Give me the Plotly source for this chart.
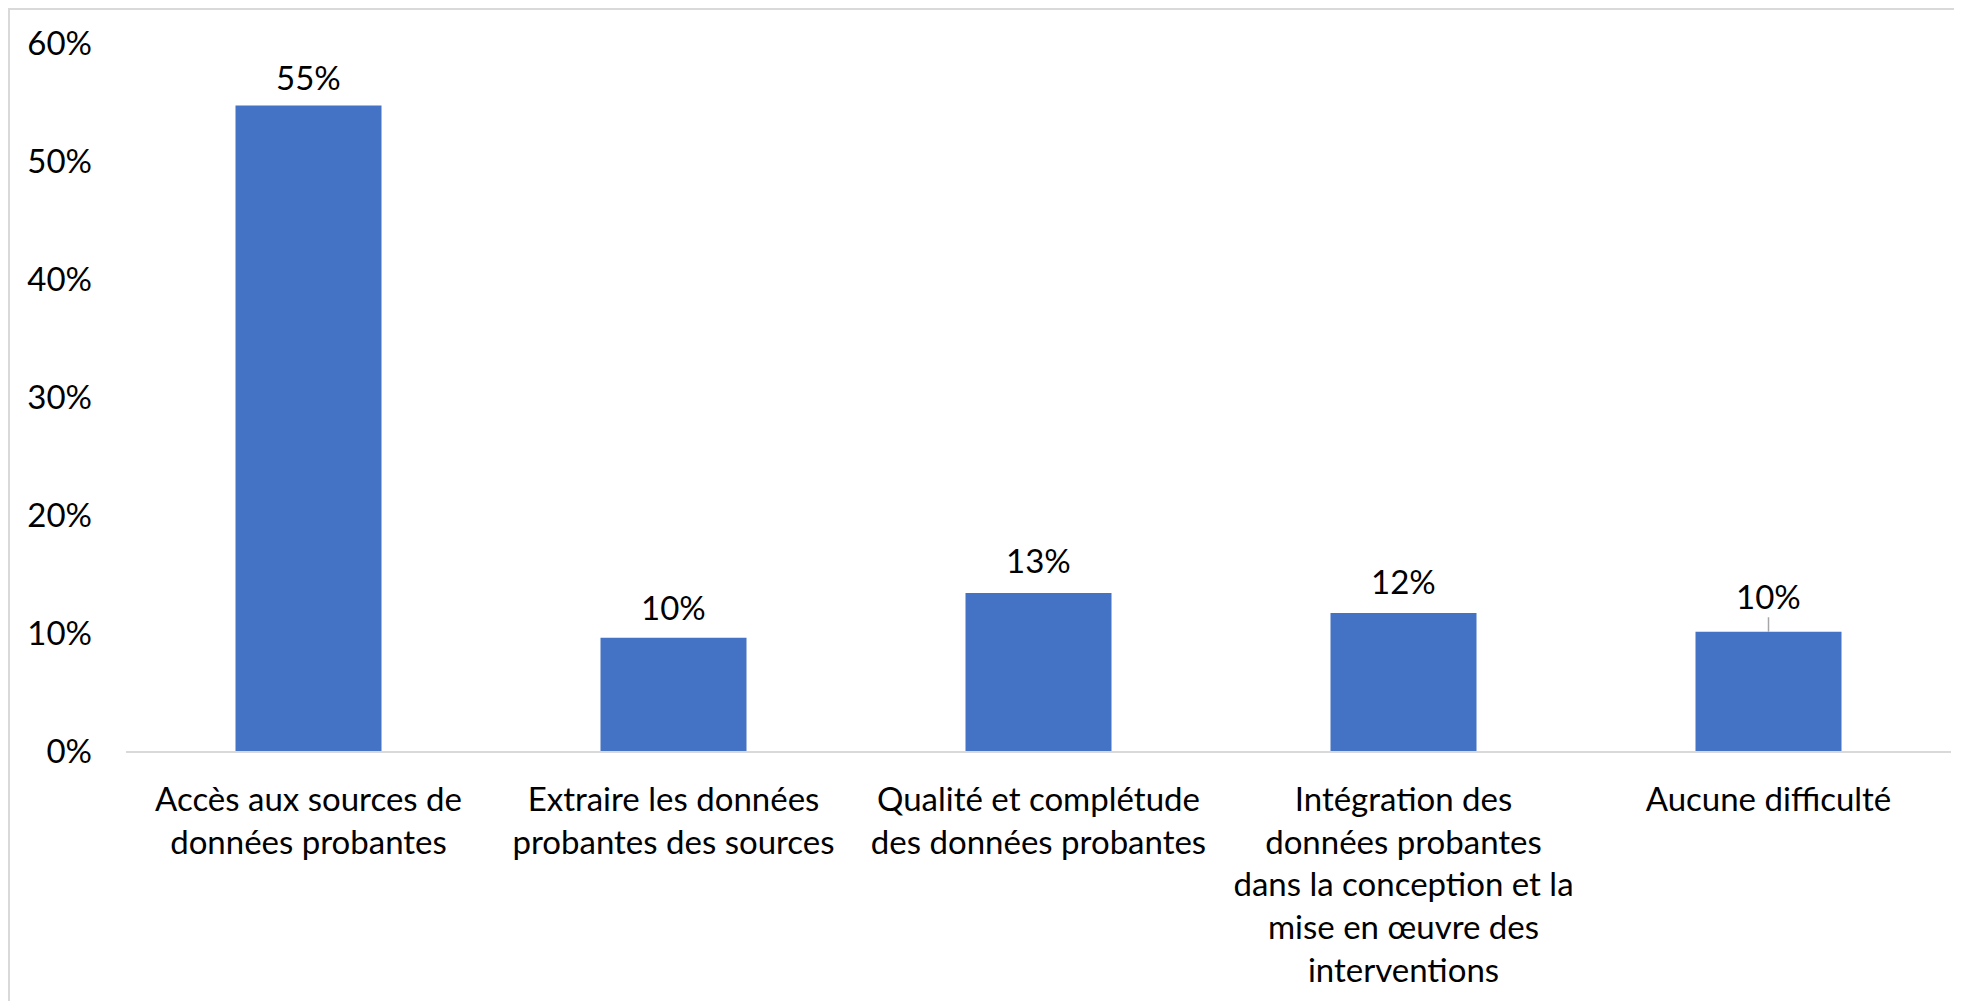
import plotly.graph_objects as go

categories = [
    "Accès aux sources de<br>données probantes",
    "Extraire les données<br>probantes des sources",
    "Qualité et complétude<br>des données probantes",
    "Intégration des<br>données probantes<br>dans la conception et la<br>mise en œuvre des<br>interventions",
    "Aucune difficulté",
]
values = [0.547, 0.096, 0.134, 0.117, 0.101]
value_labels = ["55%", "10%", "13%", "12%", "10%"]
label_offsets = [-29, -31, -33, -32, -36]
leader_line = [False, False, False, False, True]
y_ticks = [0, 0.1, 0.2, 0.3, 0.4, 0.5, 0.6]
y_tick_labels = ["0%", "10%", "20%", "30%", "40%", "50%", "60%"]

FONT = "Lato"
FS = 33

fig = go.Figure()
fig.add_trace(go.Bar(
    x=categories, y=values, width=0.4,
    marker=dict(color="#4472C4", line=dict(width=0)),
    hoverinfo="skip",
))

for c, v, t, off, ll in zip(categories, values, value_labels, label_offsets, leader_line):
    fig.add_annotation(
        x=c, y=v, text=t, showarrow=True, ax=0, ay=off,
        arrowhead=0, arrowwidth=1.5, standoff=0,
        arrowcolor="#A6A6A6" if ll else "rgba(0,0,0,0)",
        font=dict(family=FONT, size=FS, color="#000000"),
    )

# outer chart frame
fig.add_shape(type="rect", xref="paper", yref="paper",
              x0=(1 - 118) / 1825, x1=1.5, y0=-1.0, y1=(708 + 34) / 708,
              line=dict(color="#D9D9D9", width=2), fillcolor="rgba(0,0,0,0)", layer="below")

fig.update_layout(
    width=1954, height=993,
    margin=dict(l=118, r=11, t=35, b=250),
    paper_bgcolor="white", plot_bgcolor="white",
    showlegend=False,
    bargap=0.6,
    font=dict(family=FONT, size=FS, color="#000000"),
    xaxis=dict(
        showline=True, linecolor="#D9D9D9", linewidth=2,
        showgrid=False, ticks="", tickfont=dict(family=FONT, size=FS, color="#000000"),
        ticklabelstandoff=18, tickangle=0,
    ),
    yaxis=dict(
        range=[0, 0.6], tickvals=y_ticks, ticktext=y_tick_labels,
        showgrid=False, showline=False, zeroline=False, ticks="",
        tickfont=dict(family=FONT, size=FS, color="#000000"),
        ticklabelstandoff=33,
    ),
)

fig.write_html("out.html")
